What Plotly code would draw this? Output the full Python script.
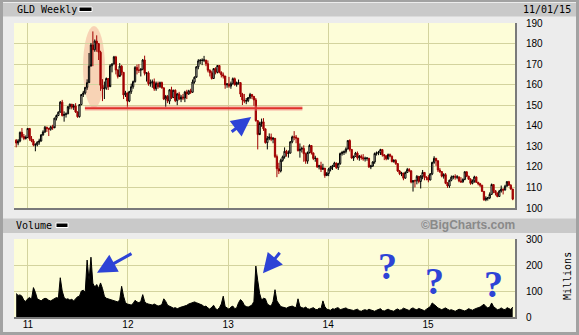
import plotly.graph_objects as go
import pandas as pd

# ---------------- data (GLD weekly) ----------------
first_open = 133.0
close_2010 = [131.6, 132.6, 136.8, 134.8, 133.8, 134.3, 138.7]
close_2011 = [133.6, 132.6, 130.6, 130.7, 132.0, 132.6, 135.5, 137.0, 139.3, 138.7, 138.3, 139.5,
              139.0, 143.7, 145.0, 146.6, 151.5, 145.0, 145.5, 145.8, 149.3, 150.5, 149.0, 149.6,
              146.7, 144.4, 150.3, 155.2, 156.0, 158.7, 161.0, 169.0, 179.3, 177.0, 181.2, 180.0,
              175.8, 159.7, 158.0, 158.3, 163.0, 159.0, 169.2, 170.0, 173.5, 167.1, 164.0, 169.0,
              166.0, 155.0, 156.0, 152.0]
close_2012 = [156.6, 159.0, 161.5, 168.4, 167.0, 167.0, 167.5, 172.0, 165.5, 165.7, 160.5, 160.9,
              161.4, 158.0, 160.6, 159.0, 161.0, 158.5, 153.0, 154.3, 152.0, 157.5, 153.7, 157.3,
              152.2, 155.5, 153.0, 154.0, 153.5, 156.4, 155.5, 157.0, 156.3, 161.3, 163.6, 168.7,
              171.6, 171.8, 171.9, 172.0, 170.2, 167.0, 165.8, 163.0, 167.8, 166.0, 169.3, 166.0,
              164.8, 164.2, 159.9, 160.3]
close_2013 = [159.3, 160.5, 162.9, 160.0, 161.0, 161.0, 155.4, 152.6, 152.0, 152.2, 153.7, 155.2,
              154.3, 152.6, 142.5, 135.7, 141.1, 141.9, 138.5, 131.8, 133.9, 134.5, 133.4, 133.9,
              125.0, 119.1, 118.0, 123.2, 124.9, 127.6, 126.5, 126.7, 132.2, 134.6, 134.5, 134.0,
              127.9, 128.6, 129.0, 126.4, 122.8, 127.0, 130.4, 126.8, 124.1, 124.2, 120.0, 120.5,
              118.8, 119.4, 115.8, 116.8]
close_2014 = [118.9, 119.9, 120.5, 121.9, 119.6, 121.6, 126.5, 127.0, 127.4, 128.7, 132.8, 128.5,
              124.3, 125.1, 126.7, 124.4, 125.2, 124.5, 123.9, 124.2, 124.2, 120.0, 120.4, 122.4,
              126.5, 126.9, 126.9, 128.4, 125.9, 125.4, 123.9, 126.0, 125.2, 122.6, 123.1, 121.6,
              118.0, 116.7, 117.0, 114.5, 117.3, 118.7, 118.1, 112.6, 113.3, 113.2, 115.4, 112.9,
              115.5, 117.3, 114.9, 114.8]
close_2015 = [113.6, 116.6, 122.2, 124.2, 123.0, 118.5, 117.7, 115.5, 116.2, 112.0, 110.7, 113.5,
              115.0, 115.3, 115.0, 115.1, 113.1, 112.7, 113.9, 117.6, 115.5, 114.0, 112.0, 113.2,
              115.1, 112.5, 111.8, 111.1, 108.1, 104.0, 104.8, 104.9, 106.6, 111.4, 108.4, 107.3,
              105.6, 108.2, 109.2, 108.7, 110.6, 112.8, 111.1, 109.2, 104.3]

high_2010 = [133.5, 133.5, 137.2, 138.9, 136.0, 135.3, 138.9]
high_2011 = [138.0, 135.0, 133.5, 131.5, 132.5, 133.7, 136.0, 137.8, 139.9, 139.5, 139.0, 140.0,
             140.5, 143.9, 145.5, 147.0, 152.0, 152.6, 147.0, 146.5, 149.6, 150.8, 150.2, 150.6,
             151.0, 147.0, 150.5, 155.5, 157.0, 158.8, 162.6, 175.4, 180.3, 185.9, 182.0, 184.0,
             178.8, 176.5, 162.7, 161.5, 163.5, 163.0, 170.0, 170.5, 174.0, 174.0, 167.5, 170.5,
             169.5, 165.5, 157.0, 156.0]
high_2012 = [157.0, 160.5, 162.0, 169.0, 169.8, 170.0, 168.0, 172.5, 174.1, 166.0, 166.5, 162.5,
             162.5, 163.0, 161.5, 161.5, 161.5, 161.5, 158.5, 155.0, 155.0, 157.8, 159.0, 157.5,
             157.7, 156.0, 156.5, 155.0, 155.5, 157.0, 157.5, 157.5, 158.0, 162.5, 164.0, 169.0,
             172.4, 172.5, 172.8, 174.0, 172.0, 171.8, 167.5, 166.8, 168.0, 168.5, 169.5, 169.5,
             166.5, 165.9, 164.0, 160.8]
high_2013 = [163.8, 161.5, 163.5, 163.5, 161.5, 162.5, 161.0, 156.0, 155.5, 153.5, 154.0, 156.0,
             155.5, 154.0, 153.5, 142.0, 142.0, 143.5, 143.7, 138.0, 135.0, 136.3, 136.2, 134.5,
             133.5, 126.0, 122.0, 124.0, 125.5, 129.5, 128.3, 128.0, 132.5, 135.2, 137.4, 135.5,
             134.0, 131.4, 129.8, 130.5, 127.0, 127.5, 131.0, 130.5, 127.0, 125.4, 124.0, 121.0,
             122.5, 121.5, 119.0, 117.5]
high_2014 = [119.5, 120.5, 121.0, 122.5, 122.0, 122.0, 127.0, 127.8, 128.0, 129.5, 133.0, 133.4,
             128.5, 125.5, 127.3, 127.5, 125.8, 126.0, 126.2, 125.0, 124.8, 124.0, 121.0, 122.8,
             127.0, 127.5, 127.8, 128.8, 128.6, 126.2, 125.5, 126.5, 126.5, 125.5, 123.8, 123.8,
             121.5, 118.5, 117.6, 117.0, 117.8, 119.5, 119.4, 118.0, 113.6, 113.8, 116.0, 115.5,
             116.0, 118.5, 117.5, 115.5]
high_2015 = [116.0, 117.0, 122.5, 125.2, 124.2, 122.0, 119.5, 117.9, 116.9, 117.0, 112.6, 113.8,
             115.8, 115.9, 116.4, 116.0, 115.4, 115.0, 114.4, 117.9, 117.8, 115.6, 114.5, 113.9,
             115.7, 115.4, 112.7, 112.2, 111.2, 108.0, 105.7, 105.4, 107.6, 111.9, 111.3, 108.6,
             107.5, 108.8, 110.9, 109.5, 111.3, 113.1, 113.2, 111.6, 109.3]

low_2010 = [129.5, 130.5, 132.0, 134.0, 133.0, 133.3, 134.5]
low_2011 = [132.7, 132.0, 130.0, 127.6, 130.0, 130.8, 132.3, 135.2, 136.5, 137.0, 135.0, 137.6,
            138.0, 139.7, 142.6, 144.7, 146.5, 144.5, 142.0, 144.0, 145.7, 148.0, 148.0, 147.7,
            146.2, 143.9, 144.0, 150.0, 154.0, 155.2, 157.5, 161.5, 170.0, 169.0, 176.0, 176.0,
            172.0, 157.0, 152.0, 153.0, 157.5, 157.4, 160.0, 166.0, 170.0, 165.0, 163.0, 164.8,
            164.5, 153.0, 154.0, 148.3]
low_2012 = [151.5, 155.5, 158.0, 161.0, 165.0, 165.7, 164.0, 167.0, 164.5, 161.5, 159.5, 159.0,
            158.5, 157.0, 157.0, 158.0, 158.5, 158.0, 152.5, 149.0, 151.0, 150.5, 153.0, 153.5,
            151.5, 150.0, 152.5, 151.5, 152.5, 151.5, 153.0, 155.0, 155.5, 156.0, 160.5, 164.0,
            167.5, 170.0, 169.5, 171.0, 169.0, 166.0, 164.0, 162.5, 163.0, 165.0, 165.5, 165.5,
            163.5, 163.0, 158.0, 158.5]
low_2013 = [158.5, 158.0, 160.0, 159.5, 159.0, 160.0, 154.0, 150.1, 151.0, 150.5, 151.5, 153.0,
            153.0, 149.7, 142.0, 128.5, 136.5, 139.5, 137.5, 131.3, 128.5, 133.0, 132.5, 131.5,
            124.3, 115.0, 116.5, 117.3, 122.5, 124.0, 125.0, 124.5, 126.5, 131.5, 133.0, 131.5,
            127.5, 124.5, 127.0, 122.5, 121.5, 121.5, 126.5, 126.0, 123.3, 122.5, 119.5, 118.8,
            117.5, 118.5, 114.7, 115.5]
low_2014 = [115.5, 117.8, 118.5, 120.0, 119.0, 118.5, 121.0, 125.5, 125.8, 126.5, 128.5, 127.5,
            124.0, 122.9, 125.0, 123.5, 123.0, 123.5, 123.0, 122.6, 123.0, 119.5, 118.9, 120.0,
            121.5, 125.5, 125.7, 125.8, 125.0, 123.3, 123.2, 123.5, 124.7, 122.2, 122.0, 121.0,
            117.5, 116.0, 115.5, 113.5, 114.3, 117.0, 117.4, 112.0, 108.0, 110.0, 111.5, 112.0,
            109.5, 114.0, 113.5, 113.5]
low_2015 = [112.5, 113.5, 116.0, 121.5, 120.5, 117.5, 117.0, 114.9, 114.3, 111.6, 109.8, 109.8,
            113.0, 114.0, 113.8, 114.0, 112.5, 112.2, 112.3, 113.5, 115.0, 113.8, 111.3, 111.5,
            112.3, 112.2, 111.0, 110.2, 107.8, 103.5, 103.3, 103.6, 104.3, 106.6, 107.2, 106.1,
            105.2, 105.5, 107.5, 106.6, 108.6, 110.7, 110.8, 108.9, 103.8]

volume_m = [90, 83, 85, 80, 64, 60, 70, 75, 68, 113, 95,
            70, 66, 62, 68, 72, 70, 64, 62, 66, 70, 75, 72,
            151, 100, 75, 68, 70, 65, 68, 62, 70, 78, 80, 100, 103, 95,
            219, 140, 230, 130, 115, 125, 110, 131, 110, 80,
            72, 70, 68, 66, 64, 62, 58, 66, 118, 80,
            55, 50, 48, 46, 52, 64, 58, 55, 60, 86, 60,
            52, 50, 48, 46, 50, 45, 42, 44, 48, 70, 60,
            45, 40, 38, 34, 36, 32, 36, 38, 40, 42, 45, 50, 52, 55, 58,
            55, 52, 50, 46, 40, 42, 35, 30, 38, 45, 32, 28, 36,
            50, 80, 40, 35, 30, 38, 42, 32, 35, 55, 67, 60,
            45, 40, 38, 42, 46, 60, 196, 140, 90, 65, 72, 70, 50,
            45, 42, 60, 105, 62, 48,
            40, 38, 36, 34, 38, 40, 42, 38, 36, 70, 40,
            36, 34, 38, 32, 30, 34, 36, 30, 28, 34, 32, 62, 40,
            30, 28, 26, 32, 30, 34, 36, 28, 30, 32, 35, 30, 28, 26,
            25, 28, 30, 24, 22, 26, 28, 25, 30, 27, 24, 22, 26, 28, 32, 25, 23, 27, 30, 26, 24, 22, 28, 31, 26,
            28, 34, 30, 27, 25, 32, 35, 30, 28, 33, 29, 26, 24, 30, 34,
            40, 54, 49, 42, 35,
            30, 28, 32, 35, 30, 26, 28, 24, 22, 26, 30, 28, 25, 23, 27, 32, 29, 26,
            30, 34, 36, 38, 45, 49, 40, 35, 38, 54, 40,
            32, 28, 30, 35, 30, 28, 36, 32, 29, 38]

year_ticks = ["2011-01-01", "2012-01-01", "2013-01-01", "2014-01-01", "2015-01-01"]
year_labels = ["11", "12", "13", "14", "15"]
price_ticks = [100, 110, 120, 130, 140, 150, 160, 170, 180, 190]
vol_ticks = [0, 100, 200, 300]

closes = close_2010 + close_2011 + close_2012 + close_2013 + close_2014 + close_2015
highs = high_2010 + high_2011 + high_2012 + high_2013 + high_2014 + high_2015
lows = low_2010 + low_2011 + low_2012 + low_2013 + low_2014 + low_2015
opens = [first_open] + closes[:-1]
n = len(closes)
dates = pd.date_range("2010-11-19", periods=n, freq="W-FRI")
assert len(highs) == n and len(lows) == n and len(volume_m) == n, (n, len(highs), len(lows), len(volume_m))

# ---------------- layout geometry ----------------
W, H = 579, 335
ML, MR, MT, MB = 14, 63, 23, 18
PW, PH = W - ML - MR, H - MT - MB


def fx(xpix):
    return (xpix - ML) / PW


def fy(ypix):
    return (H - MB - ypix) / PH


BG = "#fdfdd8"
GRID = "#d3d39e"
FRAME = "#a2a2a2"
BAR = "#c9c9c9"
BLUE = "#2d43d6"
RED = "#a00000"

fig = go.Figure()
fig.add_trace(go.Candlestick(
    x=dates, open=opens, high=highs, low=lows, close=closes,
    increasing=dict(line=dict(color="black", width=1), fillcolor="#ffffee"),
    decreasing=dict(line=dict(color=RED, width=1), fillcolor=RED),
    whiskerwidth=0, xaxis="x", yaxis="y", showlegend=False, hoverinfo="skip"))
fig.add_trace(go.Scatter(
    x=dates, y=volume_m, mode="lines", fill="tozeroy",
    line=dict(color="black", width=1), fillcolor="black",
    xaxis="x", yaxis="y2", showlegend=False, hoverinfo="skip"))

tick_font = dict(family="Liberation Sans", size=10, color="black")

fig.update_layout(
    width=W, height=H,
    margin=dict(l=ML, r=MR, t=MT, b=MB, autoexpand=False),
    paper_bgcolor="#ececec", plot_bgcolor=BG,
    boxgap=0.05, hovermode=False, showlegend=False,
    xaxis=dict(range=["2010-11-11", "2015-11-18"], anchor="y2",
               tickvals=year_ticks, ticktext=year_labels, tickfont=tick_font,
               showgrid=True, gridcolor=GRID, gridwidth=1, zeroline=False,
               showline=False, ticks="", rangeslider=dict(visible=False)),
    yaxis=dict(domain=[fy(208), 1], range=[100, 190], side="right", anchor="x",
               tickvals=price_ticks, tickfont=tick_font, showgrid=True,
               gridcolor=GRID, gridwidth=1, zeroline=False, showline=False,
               ticks="outside", ticklen=7, tickcolor="rgba(0,0,0,0)"),
    yaxis2=dict(domain=[0, fy(239)], range=[0, 300], side="right", anchor="x",
                tickvals=vol_ticks, tickfont=tick_font, showgrid=True,
                gridcolor=GRID, gridwidth=1, zeroline=False, showline=False,
                ticks="outside", ticklen=7, tickcolor="rgba(0,0,0,0)"),
)

shapes = []


def prect(x0, y0, x1, y1, fill, line=None, layer="below"):
    shapes.append(dict(type="rect", xref="paper", yref="paper",
                       x0=fx(x0), x1=fx(x1), y0=fy(y1), y1=fy(y0),
                       fillcolor=fill, line=line or dict(width=0), layer=layer))


def pline(x0, y0, x1, y1, color, width):
    shapes.append(dict(type="line", xref="paper", yref="paper",
                       x0=fx(x0), x1=fx(x1), y0=fy(y0), y1=fy(y1),
                       line=dict(color=color, width=width), layer="above"))


# outer frame
prect(0, 0, 3, H, FRAME)
prect(576, 0, W, H, FRAME)
prect(0, 0, W, 2, FRAME)
prect(0, 332, W, H, FRAME)
# header bars
prect(3, 3, 576, 16.5, BAR)
prect(3, 218.5, 576, 233, BAR)
# legend swatches
prect(79, 7, 92, 11.5, "black", dict(color="white", width=1))
prect(56, 223, 68, 227.5, "black", dict(color="white", width=1))
# pane shadows
pline(14, 209, 517, 209, "#7a7a7a", 2)
pline(516, 23, 516, 210, "#7a7a7a", 2)
pline(14, 318, 517, 318, "#7a7a7a", 2)
pline(516, 239, 516, 319, "#7a7a7a", 2)

# pink highlight ellipse around the 2011 peak
shapes.append(dict(type="circle", xref="x", yref="y",
                   x0="2011-07-21", x1="2011-10-09", y0=148.6, y1=188.5,
                   fillcolor="rgba(242,160,140,0.45)", line=dict(width=0), layer="below"))
# red support line
shapes.append(dict(type="line", xref="x", yref="y", x0="2011-07-28", x1="2013-09-29",
                   y0=148.5, y1=148.5, line=dict(color="rgba(240,130,130,0.45)", width=5),
                   layer="above"))
shapes.append(dict(type="line", xref="x", yref="y", x0="2011-07-28", x1="2013-09-29",
                   y0=148.5, y1=148.5, line=dict(color="#e0302c", width=2), layer="above"))

fig.update_layout(shapes=shapes)

mono = "DejaVu Sans Mono"
ann = []


def ptext(x, y, text, xanchor="left", font=None, angle=0):
    ann.append(dict(xref="paper", yref="paper", x=fx(x), y=fy(y), text=text,
                    xanchor=xanchor, yanchor="middle", showarrow=False,
                    font=font or dict(family=mono, size=10, color="black"),
                    textangle=angle))


ptext(15, 9.5, "GLD Weekly")
ptext(573, 9.5, "11/01/15", xanchor="right")
ptext(14, 225.5, "Volume")
ptext(517, 225.5, "<b>©BigCharts.com</b>", xanchor="right",
      font=dict(family="Liberation Sans", size=12, color="#8a8a8a"))
ptext(567, 276, "Millions", xanchor="center", angle=-90)

qfont = dict(family="Liberation Serif", size=38, color=BLUE)
ptext(387, 266, "<b>?</b>", xanchor="center", font=qfont)
ptext(434.5, 281, "<b>?</b>", xanchor="center", font=qfont)
ptext(493, 283.5, "<b>?</b>", xanchor="center", font=qfont)

arrow = dict(showarrow=True, arrowhead=2, arrowsize=1.3, arrowwidth=3,
             arrowcolor=BLUE, text="", axref="pixel", ayref="pixel")
ann.append(dict(xref="x", yref="y", x="2013-03-26", y=144.3, ax=-21, ay=16, **arrow))
ann.append(dict(xref="x", yref="y2", x="2011-09-10", y=170, ax=36, ay=-20, **arrow))
ann.append(dict(xref="x", yref="y2", x="2013-05-08", y=168, ax=18, ay=-22, **arrow))

fig.update_layout(annotations=ann)

fig.write_html("out.html")
